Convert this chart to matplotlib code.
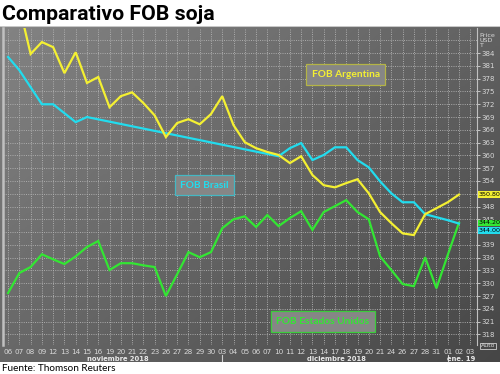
import numpy as np
import matplotlib
matplotlib.use("Agg")
import matplotlib.pyplot as plt
import matplotlib.transforms as mtransforms
from matplotlib.colors import LinearSegmentedColormap

# ---------------- data ----------------
dates = ["06", "07", "08", "09", "12", "13", "14", "15", "16", "19", "20", "21", "22", "23",
         "26", "27", "28", "29", "30",
         "03", "04", "05", "06", "07", "10", "11", "12", "13", "14", "17", "18", "19", "20", "21",
         "24", "26", "27", "28", "31",
         "01", "02", "03"]
months = ["noviembre 2018", "diciembre 2018", "ene. 19"]

argentina = [397.0, 395.0, 383.8, 386.6, 385.4, 379.3, 384.2, 377.0, 378.4, 371.3, 373.9, 374.8,
             372.3, 369.4, 364.3, 367.6, 368.5, 367.3, 369.7, 373.9, 367.1, 363.1, 361.7, 360.8,
             360.1, 358.2, 359.8, 355.4, 353.0, 352.5, 353.5, 354.4, 351.1, 346.7, 344.1, 341.7,
             341.3, 346.2, 347.6, 349.0, 350.8]
brasil = [383.1, 380.0, 376.0, 372.0, 372.0, 369.9, 367.8, 369.0,
          None, None, None, None, None, None, None, None, None, None, None, None, None, None,
          None, None,
          359.8, 361.7, 362.9, 358.9, 360.1, 361.9, 361.9, 358.9, 357.2, 353.9, 351.1, 349.0,
          349.0, 346.2, 345.5, 344.8, 344.0]
estados_unidos = [327.7, 332.4, 333.8, 336.8, 335.6, 334.5, 336.3, 338.5, 339.9, 333.1, 334.7,
                  334.7, 334.2, 333.8, 327.0, 332.1, 337.3, 336.1, 337.3, 342.9, 345.0, 345.7,
                  343.2, 346.0, 343.4, 345.3, 346.9, 342.5, 346.7, 348.1, 349.5, 346.7, 345.0,
                  336.3, 333.1, 329.8, 329.3, 336.1, 328.8, 336.6, 344.2]
series_names = ["FOB Argentina", "FOB Brasil", "FOB Estados Unidos"]
last_labels = ["350.80", "344.00", "344.20"]
yticks = [318, 321, 324, 327, 330, 333, 336, 339, 345, 348, 354, 357, 360, 363, 366, 369,
          372, 375, 378, 381, 384]

# ---------------- style ----------------
c_yel = "#f4f032"
c_cya = "#22dcee"
c_grn = "#33e633"
lab_col = "#d8d8d8"

W, H = 500, 374
fig = plt.figure(figsize=(W / 100, H / 100), dpi=100)
fig.patch.set_facecolor("white")

def fx(px):
    return px / W

def fy(py):
    return 1 - py / H

# background panel with gradient
bg = fig.add_axes([0, fy(362), 1, fy(26) - fy(362)])
bg.set_axis_off()
gx, gy = np.meshgrid(np.linspace(0, 1, 200), np.linspace(0, 1, 150))
grad = 0.55 * gx + 0.45 * gy  # 0 top-left -> 1 bottom-right
cmap = LinearSegmentedColormap.from_list("g", ["#838383", "#464646"])
bg.imshow(grad, cmap=cmap, aspect="auto", extent=[0, 1, 0, 1], origin="upper")
bg.set_xlim(0, 1)
bg.set_ylim(0, 1)
bg.axhline(1, color="#c8c8c8", lw=1.5)

ax = fig.add_axes([fx(3), fy(345), fx(477) - fx(3), fy(28) - fy(345)])
ax.patch.set_alpha(0)

x = np.arange(len(argentina))

def plot_series(vals, color):
    v = np.array([np.nan if a is None else a for a in vals], dtype=float)
    m = ~np.isnan(v)
    ax.plot(x[m], v[m], color=color, lw=1.6, zorder=3, solid_joinstyle="miter")

plot_series(estados_unidos, c_grn)
plot_series(brasil, c_cya)
plot_series(argentina, c_yel)

ax.set_xlim(-0.45, 41.6)
ax.set_ylim(315.5, 389.9)

# grid
for i in range(len(dates)):
    ax.axvline(i, color="#b4b4b4", lw=0.6, ls=(0, (1.2, 1.5)), zorder=1)
for t in range(318, 390, 3):
    ax.axhline(t, color="#b4b4b4", lw=0.6, ls=(0, (1.2, 1.5)), zorder=1)

ax.set_xticks(range(len(dates)))
ax.set_xticklabels(dates)
ax.tick_params(axis="x", length=0, pad=3, labelsize=5.2, colors=lab_col)
ax.yaxis.tick_right()
ax.set_yticks(yticks)
ax.set_yticklabels([str(t) for t in yticks])
ax.tick_params(axis="y", length=2.5, width=0.6, pad=1, labelsize=5.0, colors=lab_col)

for s in ["top", "bottom"]:
    ax.spines[s].set_visible(False)
ax.spines["left"].set_color("#c0c0c0")
ax.spines["left"].set_linewidth(1.8)
ax.spines["right"].set_color("#c0c0c0")
ax.spines["right"].set_linewidth(0.8)

# month labels and separators
trans_xb = mtransforms.blended_transform_factory(ax.transData, ax.transAxes)
month_pos = [9.7, 29.1, 40.2]
for mp, mt in zip(month_pos, months):
    ax.text(mp, -0.034, mt, transform=trans_xb, ha="center", va="top", fontsize=4.9,
            color="#e8e8e8", fontweight="bold", clip_on=False)
for sep in [19, 39]:
    ax.plot([sep, sep], [-0.03, -0.052], transform=trans_xb, color="#d0d0d0", lw=0.8,
            clip_on=False)

# right side labels
trans_yb = mtransforms.blended_transform_factory(ax.transAxes, ax.transData)
ax.text(1.005, 0.985, "Price\nUSD\nT", transform=ax.transAxes, ha="left", va="top",
        fontsize=4.6, color=lab_col, linespacing=1.0, clip_on=False)
ax.text(1.008, -0.003, "Auto", transform=ax.transAxes, ha="left", va="center", fontsize=4.4,
        color=lab_col, clip_on=False,
        bbox=dict(boxstyle="square,pad=0.15", fc="none", ec="#d0d0d0", lw=0.6))

last_cols = [c_yel, c_cya, c_grn]
last_vals = [argentina[-1], brasil[-1] - 1.65, estados_unidos[-1]]
for lv, lt, lc in zip(last_vals, last_labels, last_cols):
    ax.text(1.003, lv, lt, transform=trans_yb, ha="left", va="center", fontsize=4.6,
            color="black", clip_on=False, zorder=10,
            bbox=dict(boxstyle="square,pad=0.1", fc=lc, ec="none"))

# series name boxes
box_specs = [
    (345.5, 74.5, c_yel, "#b4b446"),
    (204.5, 185, c_cya, "#44b8c4"),
    (323, 321.5, c_grn, "#3ccc3c"),
]
for (px, py, tc, ec), name in zip(box_specs, series_names):
    fig.text(fx(px), fy(py), name, ha="center", va="center", fontsize=7.3,
             fontweight="bold", color=tc, family=["Lato", "DejaVu Sans"],
             bbox=dict(boxstyle="square,pad=0.55", fc="#868686", ec=ec, lw=0.9))

# title and source
fig.text(fx(2), fy(14), "Comparativo FOB soja", ha="left", va="center", fontsize=15.3,
         fontweight="bold", family=["Liberation Sans Narrow", "Roboto", "DejaVu Sans"],
         color="black")
fig.text(fx(2), fy(368.5), "Fuente: Thomson Reuters", ha="left", va="center", fontsize=7.2,
         family=["Lato", "DejaVu Sans"], color="black")

fig.savefig("out.png", dpi=100, facecolor="white")
